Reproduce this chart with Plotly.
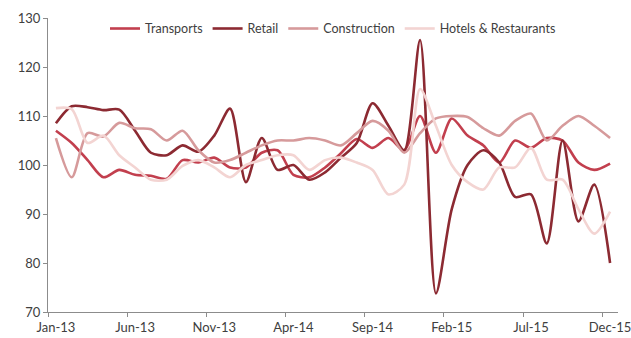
import plotly.graph_objects as go

months = ["Jan-13","Feb-13","Mar-13","Apr-13","May-13","Jun-13","Jul-13","Aug-13","Sep-13","Oct-13","Nov-13","Dec-13",
          "Jan-14","Feb-14","Mar-14","Apr-14","May-14","Jun-14","Jul-14","Aug-14","Sep-14","Oct-14","Nov-14","Dec-14",
          "Jan-15","Feb-15","Mar-15","Apr-15","May-15","Jun-15","Jul-15","Aug-15","Sep-15","Oct-15","Nov-15","Dec-15"]

transports = [107, 104.5, 101, 97.5, 99, 98, 97.8, 97.2, 101, 100.5, 101.5, 99.5,
              99.5, 102.5, 103, 98, 97.5, 99.5, 102.4, 105.3, 103.5, 105.5, 103, 110,
              102.5, 109.5, 106, 104, 100.5, 105, 103.5, 105.5, 105, 100.5, 99, 100.3]
retail = [108.5, 112, 111.8, 111.2, 111.3, 107, 102.5, 102, 104, 102.7, 106, 111.5,
          96.5, 105.5, 99, 100, 97, 98.5, 101.5, 104.5, 112.6, 108, 103, 125.5,
          73.8, 91, 100, 103, 100.5, 93.5, 94, 84, 105, 88.5, 96, 80]
construction = [105.5, 97.5, 106.5, 105.8, 108.6, 107.5, 107.3, 105, 107, 103, 100.5, 101,
                102.5, 104, 105, 105, 105.5, 105, 104, 106.5, 109, 107, 102.5, 106.5,
                109.5, 110, 109.8, 107.5, 106, 109, 110.5, 105, 108, 110, 108, 105.5]
hotels = [111.6, 111.4, 104.5, 106, 102, 99.5, 97, 97, 99.8, 101, 99.5, 97.5,
          100, 101, 102, 102, 99, 101, 101.5, 100.5, 99, 94, 96, 115.5,
          108, 100, 96.5, 95, 99.5, 99.5, 103.5, 97, 97, 91, 86, 90.5]

series = [("Transports", transports, "#C23F4E"),
          ("Retail", retail, "#8C2A32"),
          ("Construction", construction, "#D69A9B"),
          ("Hotels & Restaurants", hotels, "#F3D4D2")]

tick_idx = list(range(0, 36, 5))
tick_lbl = [months[i] for i in tick_idx]
x = list(range(len(months)))

fig = go.Figure()
for name, vals, col in series:
    fig.add_trace(go.Scatter(x=x, y=vals, name=name, mode="lines",
                             line=dict(color=col, width=2.6, shape="spline", smoothing=0.8)))

fig.update_layout(
    width=631, height=338,
    margin=dict(l=48, r=13, t=18, b=26, autoexpand=False),
    paper_bgcolor="white", plot_bgcolor="white",
    font=dict(family="Lato, Open Sans, sans-serif", color="#404040", size=13),
    showlegend=True,
    legend=dict(orientation="h", x=0.5, xanchor="center", y=0.963, yanchor="middle",
                font=dict(size=12.5, color="#404040"), itemwidth=30, tracegroupgap=0,
                bgcolor="rgba(0,0,0,0)"),
)
fig.update_xaxes(range=[-0.5, 35.5], tickmode="array", tickvals=tick_idx, ticktext=tick_lbl,
                 automargin=False, ticklabeloverflow="allow",
                 showline=True, linecolor="#8c8c8c", linewidth=1, showgrid=False, zeroline=False,
                 ticks="outside", ticklen=3, tickcolor="rgba(0,0,0,0)",
                 minor=dict(tickmode="array", tickvals=[-0.5] + [k + 4.5 for k in range(0, 35, 5)],
                            ticks="outside", ticklen=4, tickcolor="#8c8c8c", showgrid=False))
fig.update_yaxes(range=[70, 130], dtick=10, tick0=70, showline=True, linecolor="#8c8c8c", linewidth=1,
                 automargin=False,
                 showgrid=False, zeroline=False, ticks="outside", ticklen=4, tickcolor="#8c8c8c")

fig.write_html("out.html")
